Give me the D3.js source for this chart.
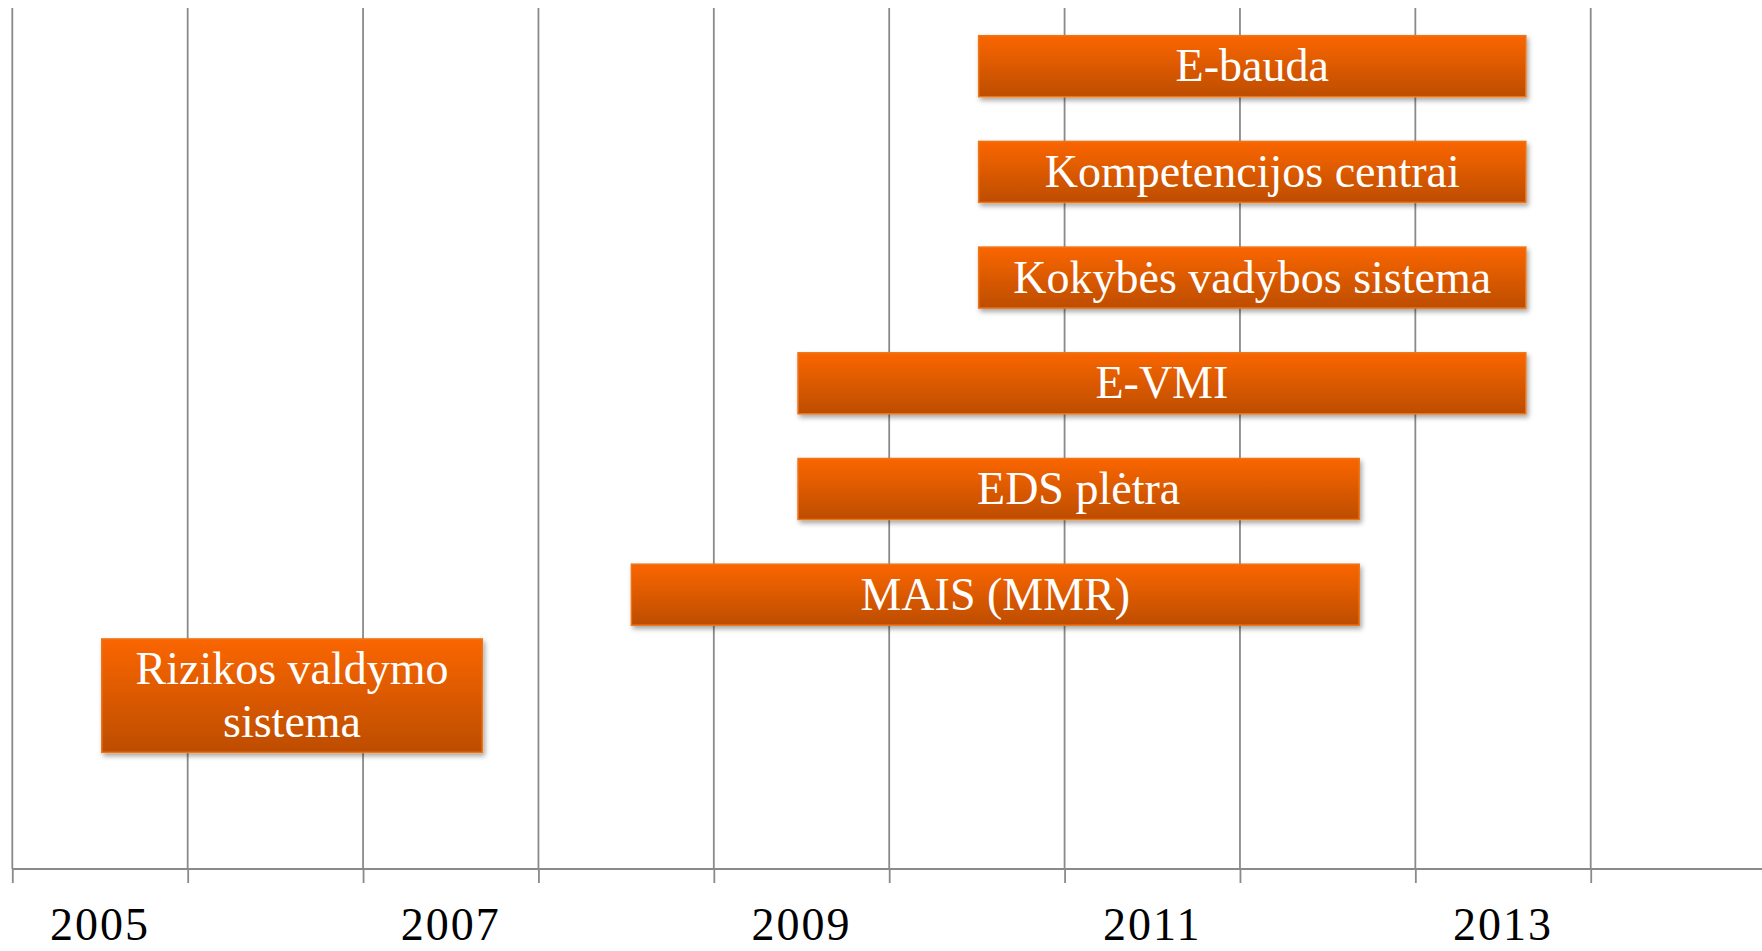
<!DOCTYPE html>
<html>
<head>
<meta charset="utf-8">
<script src="https://cdn.jsdelivr.net/npm/d3@7"></script>
<style>
  body { margin: 0; background: #fff; }
  svg { display: block; }
  text { font-family: Georgia, "Liberation Serif", serif; }
</style>
</head>
<body>
<script>
// projects, top to bottom
var tasks = ['E-bauda', 'Kompetencijos centrai', 'Kokybės vadybos sistema', 'E-VMI', 'EDS plėtra', 'MAIS (MMR)', 'Rizikos valdymo\nsistema']
// start / end in (fractional) years
var starts = [2010.51, 2010.51, 2010.51, 2009.48, 2009.48, 2008.53, 2005.51]
var ends   = [2013.63, 2013.63, 2013.63, 2013.63, 2012.68, 2012.68, 2007.68]

var gridYears  = [2005, 2006, 2007, 2008, 2009, 2010, 2011, 2012, 2013, 2014]
var labelYears = [2005, 2007, 2009, 2011, 2013]

var W = 1762, H = 951
var axisY = 869, gridTop = 8

var svg = d3.select('body').append('svg')
  .attr('width', W)
  .attr('height', H)

var defs = svg.append('defs')
var grad = defs.append('linearGradient')
  .attr('id', 'barGrad')
  .attr('x1', 0).attr('y1', 0).attr('x2', 0).attr('y2', 1)
grad.append('stop').attr('offset', '0%').attr('stop-color', '#fa6600')
grad.append('stop').attr('offset', '100%').attr('stop-color', '#bd4d00')

var shadow = defs.append('filter')
  .attr('id', 'shadow')
  .attr('x', '-10%').attr('y', '-30%').attr('width', '120%').attr('height', '170%')
shadow.append('feDropShadow')
  .attr('dx', 2).attr('dy', 3)
  .attr('stdDeviation', 2.5)
  .attr('flood-color', '#000')
  .attr('flood-opacity', 0.35)

// scales
var x = d3.scaleLinear().domain([2005, 2015]).range([12.3, 12.3 + 10 * 175.38])
var y = d3.scaleBand().domain(tasks).range([35.7, 730.9]).paddingInner(0.423).paddingOuter(0)

// gridlines
svg.append('g')
  .selectAll('line')
  .data(gridYears)
  .join('line')
  .attr('x1', function(d) { return x(d) })
  .attr('x2', function(d) { return x(d) })
  .attr('y1', gridTop)
  .attr('y2', axisY)
  .attr('stroke', '#8a8a8a')
  .attr('stroke-width', 1.8)

// x axis
var xAxis = d3.axisBottom(x).tickValues(gridYears).tickSize(14).tickFormat('')
var gx = svg.append('g')
  .attr('transform', 'translate(0,' + axisY + ')')
  .call(xAxis)
gx.select('.domain').remove()
gx.selectAll('.tick line').attr('stroke', '#8a8a8a').attr('stroke-width', 1.8)
gx.append('line')
  .attr('x1', x(2005)).attr('x2', W)
  .attr('stroke', '#8a8a8a').attr('stroke-width', 1.8)

svg.append('g')
  .selectAll('text')
  .data(labelYears)
  .join('text')
  .attr('x', function(d) { return x(d + 0.5) })
  .attr('y', 940)
  .attr('text-anchor', 'middle')
  .attr('font-size', 46)
  .attr('letter-spacing', 2)
  .attr('fill', '#000')
  .text(function(d) { return d })

// bars
var lineH = 52.5
var rows = tasks.map(function(t, i) {
  return { name: t, lines: t.split('\n'), start: starts[i], end: ends[i] }
})

// extra height of multi-line bars grows a bit more upwards than downwards
function barTop(d) {
  var extra = (d.lines.length - 1) * lineH
  return y(d.name) - extra * 0.59
}
function barH(d) { return y.bandwidth() + (d.lines.length - 1) * lineH }

var bar = svg.append('g')
  .selectAll('g')
  .data(rows)
  .join('g')

bar.append('rect')
  .attr('x', function(d) { return x(d.start) })
  .attr('width', function(d) { return x(d.end) - x(d.start) })
  .attr('y', barTop)
  .attr('height', barH)
  .attr('fill', 'url(#barGrad)')
  .attr('stroke', '#ee7518')
  .attr('stroke-width', 1.5)
  .attr('filter', 'url(#shadow)')

bar.append('text')
  .attr('text-anchor', 'middle')
  .attr('font-size', 46)
  .attr('fill', '#fff')
  .each(function(d) {
    var cx = (x(d.start) + x(d.end)) / 2
    var cy = barTop(d) + barH(d) / 2
    var first = cy + 15 - (d.lines.length - 1) * lineH / 2
    d3.select(this).selectAll('tspan')
      .data(d.lines)
      .join('tspan')
      .attr('x', cx)
      .attr('y', function(l, i) { return first + i * lineH })
      .text(function(l) { return l })
  })
</script>
</body>
</html>
